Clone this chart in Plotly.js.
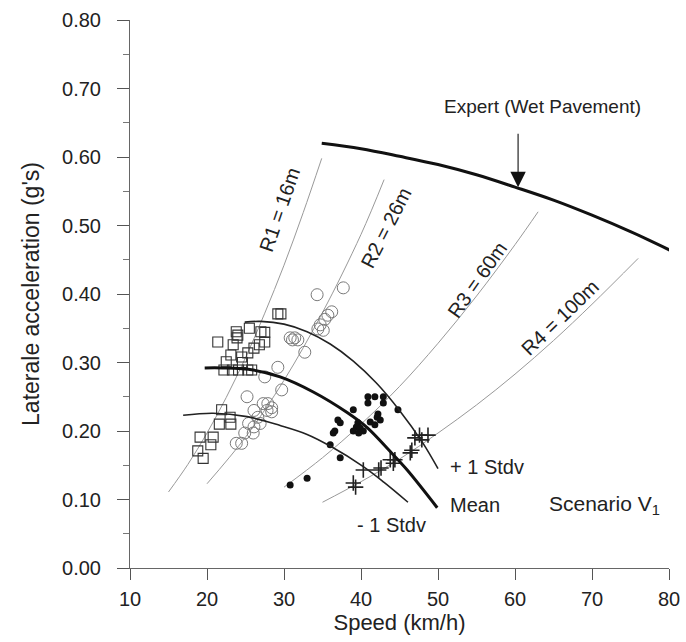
<!DOCTYPE html>
<html>
<head>
<meta charset="utf-8">
<script src="https://cdn.plot.ly/plotly-3.0.1.min.js"></script>
<style>html,body{margin:0;padding:0;background:#fff;}#chart{width:686px;height:642px;}</style>
</head>
<body>
<div id="chart"></div>
<script>
// ---- Data ----
// Observed points (speed km/h, lateral acceleration g)
const sqV = [29.2,29.6,25.5,23.8,24.0,23.9,21.4,23.4,27.0,27.5,27.5,26.8,26.1,23.1,25.3,24.5,22.5,24.6,22.2,23.3,24.1,25.3,25.8,21.9,23.0,21.6,23.1,19.1,20.8,20.5,18.8,19.5];
const sqA = [0.371,0.371,0.350,0.345,0.340,0.336,0.330,0.326,0.345,0.344,0.330,0.326,0.321,0.311,0.314,0.308,0.301,0.300,0.289,0.289,0.289,0.289,0.289,0.231,0.220,0.210,0.210,0.191,0.191,0.180,0.171,0.160];

const ciV = [37.7,34.3,36.2,35.7,35.3,34.7,35.1,34.4,30.8,31.4,31.8,31.1,32.7,29.2,29.7,27.5,25.2,27.3,27.9,28.4,27.8,28.4,26.1,26.6,26.9,26.1,25.4,24.9,26.0,24.5,23.8];
const ciA = [0.409,0.399,0.374,0.369,0.363,0.355,0.347,0.349,0.336,0.336,0.333,0.333,0.315,0.293,0.260,0.279,0.250,0.240,0.240,0.234,0.230,0.228,0.230,0.220,0.211,0.206,0.211,0.197,0.197,0.182,0.182];

const dotV = [40.9,41.8,40.9,42.9,42.9,44.8,39.0,42.2,42.1,42.5,37.0,37.3,36.6,36.4,39.6,39.4,39.9,39.0,40.3,39.7,41.2,41.8,36.0,37.3,33.0,30.8];
const dotA = [0.250,0.250,0.241,0.250,0.241,0.231,0.231,0.225,0.220,0.216,0.216,0.212,0.200,0.197,0.212,0.206,0.204,0.200,0.200,0.197,0.213,0.209,0.180,0.161,0.131,0.121];

const plV = [39.0,39.3,40.3,42.3,42.6,43.8,44.4,44.2,46.4,46.6,47.0,47.6,48.7,47.9];
const plA = [0.124,0.118,0.143,0.143,0.146,0.158,0.158,0.153,0.168,0.172,0.190,0.194,0.194,0.187];

// Constant-radius curves
const r1V = [15,17.5,20,22.5,25,27.5,30,32.5,34.9];
const r1A = [0.111,0.151,0.197,0.249,0.307,0.372,0.442,0.519,0.598];
const r2V = [20,25,30,35,40,43];
const r2A = [0.123,0.191,0.274,0.373,0.487,0.567];
const r3V = [30,35,40,45,50,55,60,63];
const r3A = [0.118,0.161,0.210,0.265,0.328,0.397,0.472,0.520];
const r4V = [35,40,45,50,55,60,65,70,76];
const r4A = [0.096,0.126,0.159,0.197,0.238,0.283,0.332,0.385,0.452];

// Fitted driver curves
const meanV = [19.7,22,26,29.5,33.8,38.2,40.8,43.8,46.0,49.9];
const meanA = [0.292,0.292,0.289,0.279,0.257,0.227,0.205,0.170,0.143,0.088];
const upV = [24.9,27,30,33,36,39,42,45,48,50.0];
const upA = [0.359,0.360,0.356,0.345,0.327,0.302,0.270,0.230,0.183,0.145];
const loV = [16.9,20.8,25.2,29.5,33,36.0,40.3,43,46.1];
const loA = [0.223,0.226,0.221,0.208,0.195,0.178,0.148,0.125,0.096];

// Expert (wet pavement) curve
const exV = [34.9,40,45,50,55,60,65,70,75,80.3];
const exA = [0.620,0.612,0.601,0.589,0.574,0.556,0.537,0.515,0.491,0.463];

const xTicks = [10,20,30,40,50,60,70,80];

const FONT = 'Liberation Sans, Arial, Helvetica, sans-serif';
const thin = {color:'#999', width:1, shape:'spline'};

const traces = [
  {x:r1V, y:r1A, mode:'lines', line:thin},
  {x:r2V, y:r2A, mode:'lines', line:thin},
  {x:r3V, y:r3A, mode:'lines', line:thin},
  {x:r4V, y:r4A, mode:'lines', line:thin},
  {x:sqV, y:sqA, mode:'markers', marker:{symbol:'square-open', size:10, color:'#333', line:{width:1.1}}},
  {x:ciV, y:ciA, mode:'markers', marker:{symbol:'circle-open', size:12, color:'#7a7a7a', line:{width:1}}},
  {x:dotV, y:dotA, mode:'markers', marker:{symbol:'circle', size:7, color:'#111'}},
  {x:plV, y:plA, mode:'markers', marker:{symbol:'cross-thin-open', size:11, color:'#222', line:{width:1.6, color:'#222'}}},
  {x:upV, y:upA, mode:'lines', line:{color:'#222', width:1.6, shape:'spline'}},
  {x:loV, y:loA, mode:'lines', line:{color:'#222', width:1.6, shape:'spline'}},
  {x:meanV, y:meanA, mode:'lines', line:{color:'#111', width:3, shape:'spline'}},
  {x:exV, y:exA, mode:'lines', line:{color:'#111', width:3, shape:'spline'}}
];

const ann = (x,y,text,opts) => Object.assign({x:x, y:y, text:text, showarrow:false, xref:'x', yref:'y', font:{family:FONT, size:20, color:'#222'}}, opts||{});

const annotations = [
  ann(29.4,0.523,'R1 = 16m',{textangle:-71}),
  ann(43.2,0.497,'R2 = 26m',{textangle:-63}),
  ann(55.1,0.420,'R3 = 60m',{textangle:-55}),
  ann(65.8,0.365,'R4 = 100m',{textangle:-44}),
  ann(51.3,0.147,'+ 1 Stdv',{xanchor:'left'}),
  ann(51.3,0.092,'Mean',{xanchor:'left'}),
  ann(39.2,0.063,'- 1 Stdv',{xanchor:'left'}),
  ann(64.2,0.092,'Scenario V<sub>1</sub>',{xanchor:'left', font:{family:FONT, size:21, color:'#222'}}),
  ann(63.6,0.673,'Expert (Wet Pavement)',{font:{family:FONT, size:19, color:'#222'}}),
  {x:60.4, y:0.556, xref:'x', yref:'y', text:' ', font:{size:2}, showarrow:true, ax:0, ay:-56, axref:'pixel', ayref:'pixel', arrowhead:2, arrowsize:2.8, arrowwidth:1.1, arrowcolor:'#111', standoff:0}
];

const layout = {
  width:686, height:642,
  margin:{l:130, r:17, t:20, b:74},
  paper_bgcolor:'#fff', plot_bgcolor:'#fff',
  showlegend:false,
  font:{family:FONT, color:'#222'},
  xaxis:{
    range:[10,80], tickvals:xTicks, ticks:'outside', ticklen:11, tickcolor:'#555', tickwidth:1,
    showline:true, linecolor:'#666', linewidth:1, showgrid:false, zeroline:false,
    tickfont:{family:FONT, size:20, color:'#222'}, ticklabelstandoff:2,
    title:{text:'Speed (km/h)', font:{family:FONT, size:22, color:'#222'}, standoff:4}
  },
  yaxis:{
    range:[0,0.8], dtick:0.1, tick0:0, tickformat:'.2f', ticks:'outside', ticklen:12, tickcolor:'#555', tickwidth:1,
    minor:{dtick:0.05, ticks:'outside', ticklen:6, tickcolor:'#777', showgrid:false},
    showline:true, linecolor:'#666', linewidth:1, showgrid:false, zeroline:false,
    tickfont:{family:FONT, size:20, color:'#222'}, ticklabelstandoff:12,
    title:{text:"Laterale acceleration (g's)", font:{family:FONT, size:23, color:'#222'}, standoff:16}
  },
  annotations:annotations
};

Plotly.newPlot('chart', traces, layout, {displayModeBar:false, staticPlot:true});
</script>
</body>
</html>
